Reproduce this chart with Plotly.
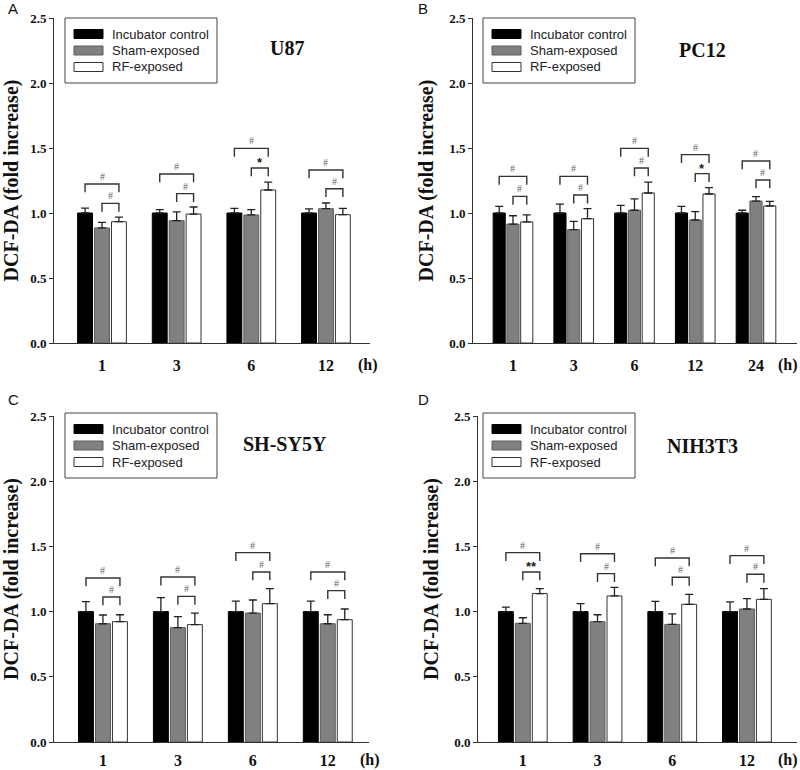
import plotly.graph_objects as go

# time points (h)
hours_4 = ["1", "3", "6", "12"]
hours_5 = ["1", "3", "6", "12", "24"]

series_names = ["Incubator control", "Sham-exposed", "RF-exposed"]

# U87
u87_ctrl = [1.0, 1.0, 1.0, 1.0]
u87_ctrl_err = [0.038, 0.026, 0.036, 0.031]
u87_sham = [0.885, 0.941, 0.985, 1.033]
u87_sham_err = [0.043, 0.067, 0.041, 0.044]
u87_rf = [0.933, 0.992, 1.177, 0.987]
u87_rf_err = [0.036, 0.054, 0.061, 0.049]
u87_big = [1.223, 1.300, 1.497, 1.331]
u87_small = [1.074, 1.149, 1.346, 1.187]
u87_small_lbl = ["#", "#", "*", "#"]

# PC12
pc12_ctrl = [1.0, 1.0, 1.0, 1.0, 1.0]
pc12_ctrl_err = [0.051, 0.069, 0.059, 0.051, 0.021]
pc12_sham = [0.915, 0.872, 1.021, 0.946, 1.092]
pc12_sham_err = [0.064, 0.064, 0.087, 0.064, 0.034]
pc12_rf = [0.931, 0.956, 1.154, 1.146, 1.054]
pc12_rf_err = [0.054, 0.077, 0.084, 0.049, 0.036]
pc12_big = [1.282, 1.282, 1.497, 1.449, 1.400]
pc12_small = [1.128, 1.138, 1.346, 1.303, 1.254]
pc12_small_lbl = ["#", "#", "#", "*", "#"]

# SH-SY5Y
sh_ctrl = [1.0, 1.0, 1.0, 1.0]
sh_ctrl_err = [0.076, 0.107, 0.081, 0.081]
sh_sham = [0.907, 0.877, 0.989, 0.907]
sh_sham_err = [0.067, 0.084, 0.100, 0.069]
sh_rf = [0.923, 0.900, 1.061, 0.938]
sh_rf_err = [0.053, 0.089, 0.115, 0.082]
sh_big = [1.258, 1.265, 1.452, 1.304]
sh_small = [1.112, 1.117, 1.304, 1.161]
sh_small_lbl = ["#", "#", "#", "#"]

# NIH3T3
nih_ctrl = [1.0, 1.0, 1.0, 1.0]
nih_ctrl_err = [0.035, 0.061, 0.079, 0.074]
nih_sham = [0.910, 0.923, 0.902, 1.020]
nih_sham_err = [0.043, 0.053, 0.080, 0.079]
nih_rf = [1.138, 1.120, 1.056, 1.094]
nih_rf_err = [0.038, 0.066, 0.076, 0.082]
nih_big = [1.452, 1.444, 1.411, 1.429]
nih_small = [1.304, 1.291, 1.263, 1.286]
nih_small_lbl = ["**", "#", "#", "#"]

W, H = 800, 770
BARGAP = 0.32
SLOT = (1 - BARGAP) / 3
DROP = 0.064

SERIF = "Liberation Serif"
SANS = "Liberation Sans"

fills = ["#000000", "#808080", "#ffffff"]
outlines = ["#000000", "#5a5a5a", "#333333"]

panels = [
    dict(letter="A", name="U87", hours=hours_4,
         vals=[u87_ctrl, u87_sham, u87_rf], errs=[u87_ctrl_err, u87_sham_err, u87_rf_err],
         big=u87_big, small=u87_small, small_lbl=u87_small_lbl,
         px=(54, 370), py=(18, 343), xr=[-0.643, 3.59], leg=(65, 18),
         title_xy=(287, 48), letter_xy=(13, 8), h_x=368, lab_gap=22),
    dict(letter="B", name="PC12", hours=hours_5,
         vals=[pc12_ctrl, pc12_sham, pc12_rf], errs=[pc12_ctrl_err, pc12_sham_err, pc12_rf_err],
         big=pc12_big, small=pc12_small, small_lbl=pc12_small_lbl,
         px=(473, 797), py=(18, 343), xr=[-0.658, 4.675], leg=(483, 18),
         title_xy=(702, 50), letter_xy=(423, 8), h_x=788, lab_gap=22),
    dict(letter="C", name="SH-SY5Y", hours=hours_4,
         vals=[sh_ctrl, sh_sham, sh_rf], errs=[sh_ctrl_err, sh_sham_err, sh_rf_err],
         big=sh_big, small=sh_small, small_lbl=sh_small_lbl,
         px=(54, 369), py=(416, 742), xr=[-0.653, 3.55], leg=(65, 413),
         title_xy=(285, 444), letter_xy=(13, 400), h_x=370, lab_gap=18),
    dict(letter="D", name="NIH3T3", hours=hours_4,
         vals=[nih_ctrl, nih_sham, nih_rf], errs=[nih_ctrl_err, nih_sham_err, nih_rf_err],
         big=nih_big, small=nih_small, small_lbl=nih_small_lbl,
         px=(478, 797), py=(416, 742), xr=[-0.6, 3.67], leg=(483, 413),
         title_xy=(702, 446), letter_xy=(423, 400), h_x=788, lab_gap=18),
]


def fx(p):
    return p / W


def fy(p):
    return 1 - p / H


def paper_text(x, y, text, font, xanchor="center"):
    return dict(x=fx(x), y=fy(y), xref="paper", yref="paper", text=text,
                showarrow=False, xanchor=xanchor, yanchor="middle", font=font)


fig = go.Figure()
shapes = []
annotations = []
layout = {}

for n, p in enumerate(panels, start=1):
    sfx = "" if n == 1 else str(n)
    xa, ya = "x" + sfx, "y" + sfx
    idx = list(range(len(p["hours"])))

    for k in range(3):
        fig.add_trace(go.Bar(
            x=idx, y=p["vals"][k], name=series_names[k], xaxis=xa, yaxis=ya,
            marker=dict(color=fills[k], line=dict(color=outlines[k], width=1)),
            error_y=dict(type="data", symmetric=False, array=p["errs"][k],
                         arrayminus=[0] * len(idx), color="#222222",
                         thickness=1.3, width=4),
            showlegend=False, hoverinfo="skip"))

    # significance brackets
    bx, by = [], []
    for i in idx:
        left_big, mid, right = i - SLOT, i, i + SLOT
        bx += [left_big, left_big, right, right, None]
        by += [p["big"][i] - DROP, p["big"][i], p["big"][i], p["big"][i] - DROP, None]
        bx += [mid, mid, right, right, None]
        by += [p["small"][i] - DROP, p["small"][i], p["small"][i], p["small"][i] - DROP, None]
        annotations.append(dict(x=(left_big + right) / 2, y=p["big"][i], xref=xa, yref=ya,
                                text="#", showarrow=False, xanchor="center",
                                yanchor="bottom", yshift=0,
                                font=dict(family=SERIF, size=10, color="#666666")))
        lbl = p["small_lbl"][i]
        star = lbl != "#"
        annotations.append(dict(x=(mid + right) / 2, y=p["small"][i], xref=xa, yref=ya,
                                text=lbl, showarrow=False, xanchor="center",
                                yanchor="bottom", yshift=-4 if star else 0,
                                font=dict(family=SANS if star else SERIF,
                                          size=13 if star else 10,
                                          weight="bold" if star else "normal",
                                          color="#222222" if star else "#666666")))
    fig.add_trace(go.Scatter(x=bx, y=by, xaxis=xa, yaxis=ya, mode="lines",
                             line=dict(color="#333333", width=1.4),
                             showlegend=False, hoverinfo="skip"))

    layout["xaxis" + sfx] = dict(
        domain=[fx(p["px"][0]), fx(p["px"][1])], anchor=ya, range=p["xr"],
        tickvals=idx, ticktext=p["hours"], showgrid=False, zeroline=False,
        showline=True, linecolor="#333333", linewidth=1,
        ticks="outside", ticklen=p["lab_gap"] - 14, tickcolor="rgba(0,0,0,0)",
        tickfont=dict(family=SERIF, size=16, weight="bold", color="#111111"),
        fixedrange=True)
    layout["yaxis" + sfx] = dict(
        domain=[fy(p["py"][1]), fy(p["py"][0])], anchor=xa, range=[0, 2.5],
        tickvals=[0, 0.5, 1.0, 1.5, 2.0, 2.5], tickformat=".1f",
        showgrid=False, zeroline=False, showline=True, linecolor="#333333", linewidth=1,
        ticks="outside", ticklen=4, tickcolor="#333333",
        tickfont=dict(family=SERIF, size=13, weight="bold", color="#111111"),
        title=dict(text="DCF-DA (fold increase)", standoff=10,
                   font=dict(family=SERIF, size=20, weight="bold", color="#111111")),
        fixedrange=True)

    # panel title, letter, hour unit
    annotations.append(paper_text(p["title_xy"][0], p["title_xy"][1], p["name"],
                                  dict(family=SERIF, size=20, weight="bold", color="#111111")))
    annotations.append(paper_text(p["letter_xy"][0], p["letter_xy"][1], p["letter"],
                                  dict(family=SANS, size=15, color="#111111")))
    annotations.append(paper_text(p["h_x"], p["py"][1] + p["lab_gap"], "(h)",
                                  dict(family=SERIF, size=16, weight="bold", color="#111111")))

    # legend box drawn per panel
    lx, ly = p["leg"]
    shapes.append(dict(type="rect", xref="paper", yref="paper",
                       x0=fx(lx), x1=fx(lx + 152), y0=fy(ly + 65), y1=fy(ly),
                       line=dict(color="#444444", width=1), fillcolor="white"))
    for k in range(3):
        cy = ly + 16 + k * 16.5
        shapes.append(dict(type="rect", xref="paper", yref="paper",
                           x0=fx(lx + 9), x1=fx(lx + 38), y0=fy(cy + 4.5), y1=fy(cy - 4.5),
                           line=dict(color=outlines[k], width=1), fillcolor=fills[k]))
        annotations.append(paper_text(lx + 45, cy, series_names[k],
                                      dict(family=SANS, size=13, color="#222222"),
                                      xanchor="left"))

fig.update_layout(
    template="none",
    width=W, height=H,
    margin=dict(l=0, r=0, t=0, b=0),
    paper_bgcolor="white", plot_bgcolor="white",
    barmode="group", bargap=BARGAP, bargroupgap=0.12,
    showlegend=False,
    shapes=shapes, annotations=annotations,
    **layout)

fig.write_html("out.html", config={"displayModeBar": False},
               post_script="document.body.style.margin='0px';")
